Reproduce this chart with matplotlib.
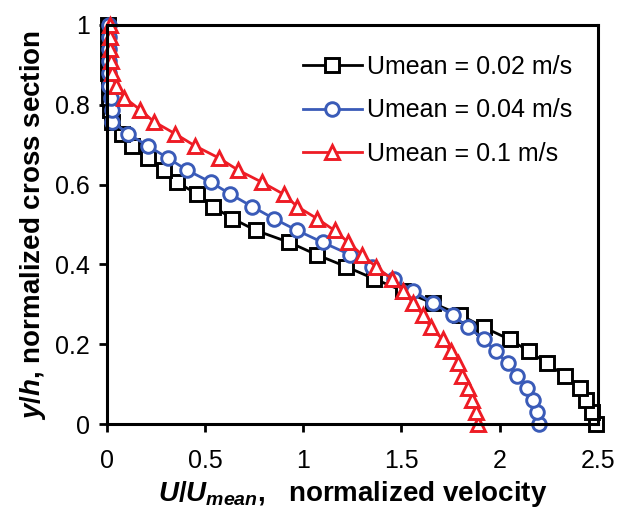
import matplotlib
matplotlib.use("Agg")
import matplotlib.pyplot as plt

plt.rcParams['font.family'] = ['Liberation Sans', 'DejaVu Sans']
plt.rcParams['mathtext.fontset'] = 'custom'
plt.rcParams['mathtext.rm'] = 'Liberation Sans:bold'
plt.rcParams['mathtext.bf'] = 'Liberation Sans:bold'
plt.rcParams['mathtext.it'] = 'Liberation Sans:bold:italic'

# normalized cross-section positions y/h
y_levels = [0.000, 0.030, 0.061, 0.091, 0.121, 0.152, 0.182, 0.212, 0.242, 0.273,
            0.303, 0.333, 0.364, 0.394, 0.424, 0.455, 0.485, 0.515, 0.545, 0.576,
            0.606, 0.636, 0.667, 0.697, 0.727, 0.758, 0.788, 0.818, 0.848, 0.879,
            0.909, 0.939, 0.970, 1.000]

# normalized velocity U/Umean
u_002 = [2.49, 2.47, 2.44, 2.41, 2.33, 2.24, 2.15, 2.05, 1.92, 1.80,
         1.66, 1.51, 1.36, 1.22, 1.07, 0.93, 0.76, 0.64, 0.54, 0.46,
         0.36, 0.29, 0.21, 0.13, 0.08, 0.03, 0.015, 0.01, 0.01, 0.005,
         0.005, 0.005, 0.005, 0.005]
u_004 = [2.20, 2.19, 2.17, 2.14, 2.09, 2.04, 1.98, 1.92, 1.84, 1.76,
         1.66, 1.56, 1.46, 1.35, 1.24, 1.10, 0.97, 0.85, 0.74, 0.63,
         0.53, 0.41, 0.31, 0.21, 0.11, 0.03, 0.03, 0.02, 0.01, 0.01,
         0.01, 0.01, 0.01, 0.01]
u_01 = [1.89, 1.88, 1.86, 1.84, 1.81, 1.79, 1.75, 1.71, 1.65, 1.61,
        1.56, 1.51, 1.45, 1.37, 1.30, 1.23, 1.16, 1.07, 0.97, 0.90,
        0.79, 0.67, 0.57, 0.45, 0.35, 0.24, 0.17, 0.09, 0.05, 0.03,
        0.02, 0.015, 0.015, 0.015]

labels = ["Umean = 0.02 m/s", "Umean = 0.04 m/s", "Umean = 0.1 m/s"]
x_ticks = [0, 0.5, 1, 1.5, 2, 2.5]
x_tick_labels = ["0", "0.5", "1", "1.5", "2", "2.5"]
y_ticks = [0, 0.2, 0.4, 0.6, 0.8, 1]
y_tick_labels = ["0", "0.2", "0.4", "0.6", "0.8", "1"]

W, H = 619, 508
fig = plt.figure(figsize=(W / 100, H / 100), dpi=100)
ax = fig.add_axes([106.6 / W, (H - 424) / H, (598 - 106.6) / W, (424 - 25) / H])

black = '#000000'
blue = '#3A5BB8'
red = '#EE1C25'

ax.plot(u_002, y_levels, color=black, lw=2.0, marker='s', ms=9.8, mfc='white',
        mec=black, mew=2.1, label=labels[0], clip_on=False, zorder=3)
ax.plot(u_004, y_levels, color=blue, lw=2.0, marker='o', ms=9.8, mfc='white',
        mec=blue, mew=2.1, label=labels[1], clip_on=False, zorder=4)
ax.plot(u_01, y_levels, color=red, lw=2.0, marker='^', ms=10.3, mfc='white',
        mec=red, mew=2.1, label=labels[2], clip_on=False, zorder=5)

ax.set_xlim(0, 2.5)
ax.set_ylim(0, 1)
ax.set_xticks(x_ticks)
ax.set_xticklabels(x_tick_labels)
ax.set_yticks(y_ticks)
ax.set_yticklabels(y_tick_labels)
for s in ax.spines.values():
    s.set_linewidth(2.2)
    s.set_zorder(6)
ax.tick_params(direction='out', length=6, width=2.0, labelsize=18)
ax.tick_params(axis='x', pad=12)
ax.tick_params(axis='y', pad=6)

ax.set_xlabel(r'$\mathit{U/U}_{\mathit{mean}}$,   normalized velocity',
              fontsize=20, fontweight='bold', labelpad=4)
ax.set_ylabel(r'$\mathit{y/h}$, normalized cross section',
              fontsize=20, fontweight='bold', labelpad=5)

leg = ax.legend(loc='upper right', frameon=False, fontsize=18, handlelength=2.35,
                handletextpad=0.2, labelspacing=0.78, borderaxespad=0.0,
                borderpad=0.0, bbox_to_anchor=(0.947, 0.925))

fig.savefig('out.png', dpi=100)
